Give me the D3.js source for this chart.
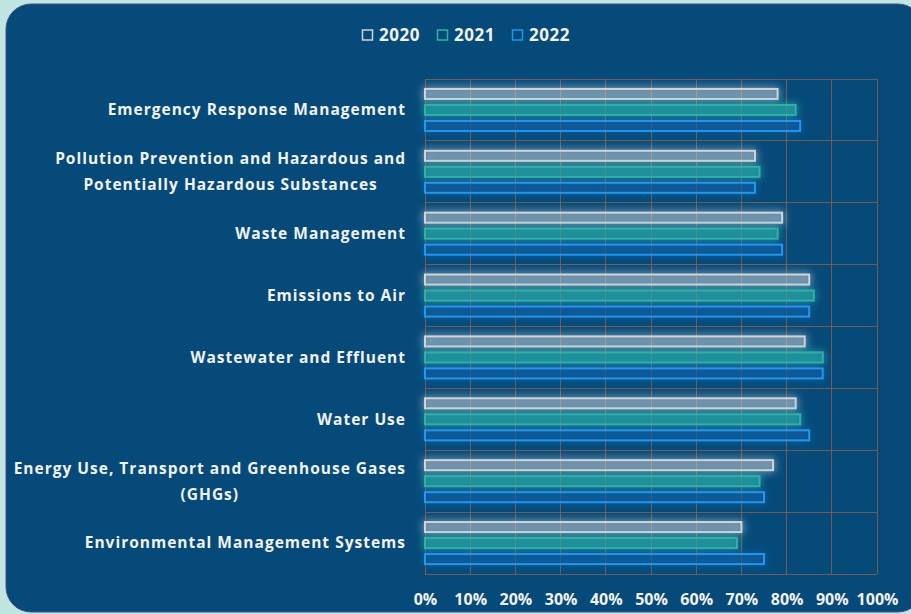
<!DOCTYPE html>
<html>
<head>
<meta charset="utf-8">
<script src="https://cdn.jsdelivr.net/npm/d3@7/dist/d3.min.js"></script>
<style>
  html, body { margin: 0; padding: 0; background: #bfe6e1; }
  svg { display: block; }
  text { font-family: "Open Sans", Lato, sans-serif; font-weight: 700; fill: #f2f2f2; }
</style>
</head>
<body>
<svg id="chart" width="911" height="614"></svg>
<script>
// Survey categories, top to bottom
const categories = [
  "Emergency Response Management",
  "Pollution Prevention and Hazardous and|Potentially Hazardous Substances",
  "Waste Management",
  "Emissions to Air",
  "Wastewater and Effluent",
  "Water Use",
  "Energy Use, Transport and Greenhouse Gases|(GHGs)",
  "Environmental Management Systems"
];
const years = ["2020", "2021", "2022"];
// Share of compliance per category (percent), one list per year
const values2020 = [78, 73, 79, 85, 84, 82, 77, 70];
const values2021 = [82, 74, 78, 86, 88, 83, 74, 69];
const values2022 = [83, 73, 79, 85, 88, 85, 75, 75];
const tickLabels = ["0%", "10%", "20%", "30%", "40%", "50%", "60%", "70%", "80%", "90%", "100%"];

const seriesValues = { "2020": values2020, "2021": values2021, "2022": values2022 };
const strokeColor = { "2020": "#d2d4d6", "2021": "#2fb3a2", "2022": "#2196f0" };
const fillColor = { "2020": "rgba(150,165,180,0.3)", "2021": "rgba(25,150,155,0.55)", "2022": "rgba(10,85,150,0.6)" };
const glowColor = { "2020": "#ffffff", "2021": "#44d6c6", "2022": "#2a9af5" };
const glowOpacity = { "2020": 0.85, "2021": 0.75, "2022": 0.35 };

const svg = d3.select("#chart");

// dark rounded panel
svg.append("rect")
  .attr("x", 6).attr("y", 4).attr("width", 917).attr("height", 608)
  .attr("rx", 25).attr("ry", 25)
  .attr("fill", "#054a79").attr("stroke", "#4f4a86").attr("stroke-width", 1);

const defs = svg.append("defs");
years.forEach(y => {
  const f = defs.append("filter").attr("id", "glow" + y)
    .attr("x", "-10%").attr("y", "-100%").attr("width", "120%").attr("height", "300%");
  f.append("feGaussianBlur").attr("in", "SourceAlpha").attr("stdDeviation", 4).attr("result", "blur");
  f.append("feFlood").attr("flood-color", glowColor[y]).attr("flood-opacity", glowOpacity[y]).attr("result", "col");
  f.append("feComposite").attr("in", "col").attr("in2", "blur").attr("operator", "in").attr("result", "glow");
  const m = f.append("feMerge");
  m.append("feMergeNode").attr("in", "glow");
  m.append("feMergeNode").attr("in", "SourceGraphic");
});

const plotLeft = 425, plotRight = 877, plotTop = 79, plotBottom = 574;

const x = d3.scaleLinear().domain([0, 100]).range([plotLeft, plotRight]);
const y = d3.scaleBand().domain(categories).range([plotTop, plotBottom]).paddingInner(0).paddingOuter(0);
const ySub = d3.scaleBand().domain(years).range([0, y.bandwidth()])
  .paddingInner(6 / 16).paddingOuter(0.62);

// grid
const grid = svg.append("g").attr("class", "grid");
grid.selectAll("line.v").data(d3.range(0, 101, 10)).join("line")
  .attr("class", "v")
  .attr("x1", d => x(d)).attr("x2", d => x(d))
  .attr("y1", plotTop).attr("y2", plotBottom);
const hLines = categories.map(c => y(c)).concat([plotBottom]);
grid.selectAll("line.h").data(hLines).join("line")
  .attr("class", "h")
  .attr("x1", plotLeft).attr("x2", plotRight)
  .attr("y1", d => d).attr("y2", d => d);
grid.selectAll("line").attr("stroke", "#8a5d47").attr("stroke-width", 1).attr("stroke-opacity", 0.85)
  .attr("shape-rendering", "crispEdges");

// bars
const groups = svg.append("g").selectAll("g").data(categories).join("g")
  .attr("transform", d => `translate(0,${y(d)})`);
groups.each(function (cat, i) {
  const g = d3.select(this);
  years.forEach(yr => {
    const v = seriesValues[yr][i];
    g.append("rect")
      .attr("x", x(0))
      .attr("y", ySub(yr))
      .attr("width", x(v) - x(0))
      .attr("height", ySub.bandwidth())
      .attr("fill", fillColor[yr])
      .attr("stroke", strokeColor[yr])
      .attr("stroke-width", 2)
      .attr("filter", `url(#glow${yr})`);
  });
});

// category labels (lines centred within a right-aligned block)
const labelRight = 405;
const labelSpacing = 1;
categories.forEach(cat => {
  const lines = cat.split("|");
  const cy = y(cat) + y.bandwidth() / 2;
  const lh = 26;
  const t = svg.append("text").attr("font-size", 15.5).attr("letter-spacing", labelSpacing);
  const tspans = lines.map((ln, k) => t.append("tspan")
    .attr("y", cy + (k - (lines.length - 1) / 2) * lh)
    .attr("dy", "0.35em")
    .text(ln));
  const widths = tspans.map(ts => ts.node().getComputedTextLength() - labelSpacing);
  const blockW = d3.max(widths);
  const blockCx = labelRight - blockW / 2;
  tspans.forEach((ts, k) => ts.attr("x", blockCx - widths[k] / 2).attr("text-anchor", "start"));
});

// x axis labels
const xAxis = d3.axisBottom(x).tickValues(d3.range(0, 101, 10))
  .tickSize(0).tickPadding(0)
  .tickFormat((d, i) => tickLabels[i]);
const ax = svg.append("g").attr("transform", `translate(0,${plotBottom + 20})`).call(xAxis);
ax.select(".domain").remove();
ax.selectAll("text").attr("font-size", 16).attr("font-family", null).attr("fill", "#f2f2f2");

// legend
const legend = svg.append("g").attr("transform", "translate(362,35)");
const legX = [0, 75, 150];
years.forEach((yr, i) => {
  const g = legend.append("g").attr("transform", `translate(${legX[i]},0)`);
  g.append("rect").attr("x", 0.5).attr("y", -5).attr("width", 10).attr("height", 10)
    .attr("fill", "none").attr("stroke", strokeColor[yr]).attr("stroke-width", 1.5);
  g.append("text").attr("x", 17).attr("y", 0).attr("dy", "0.35em")
    .attr("font-size", 17).attr("letter-spacing", 0.5).text(yr);
});
</script>
</body>
</html>
